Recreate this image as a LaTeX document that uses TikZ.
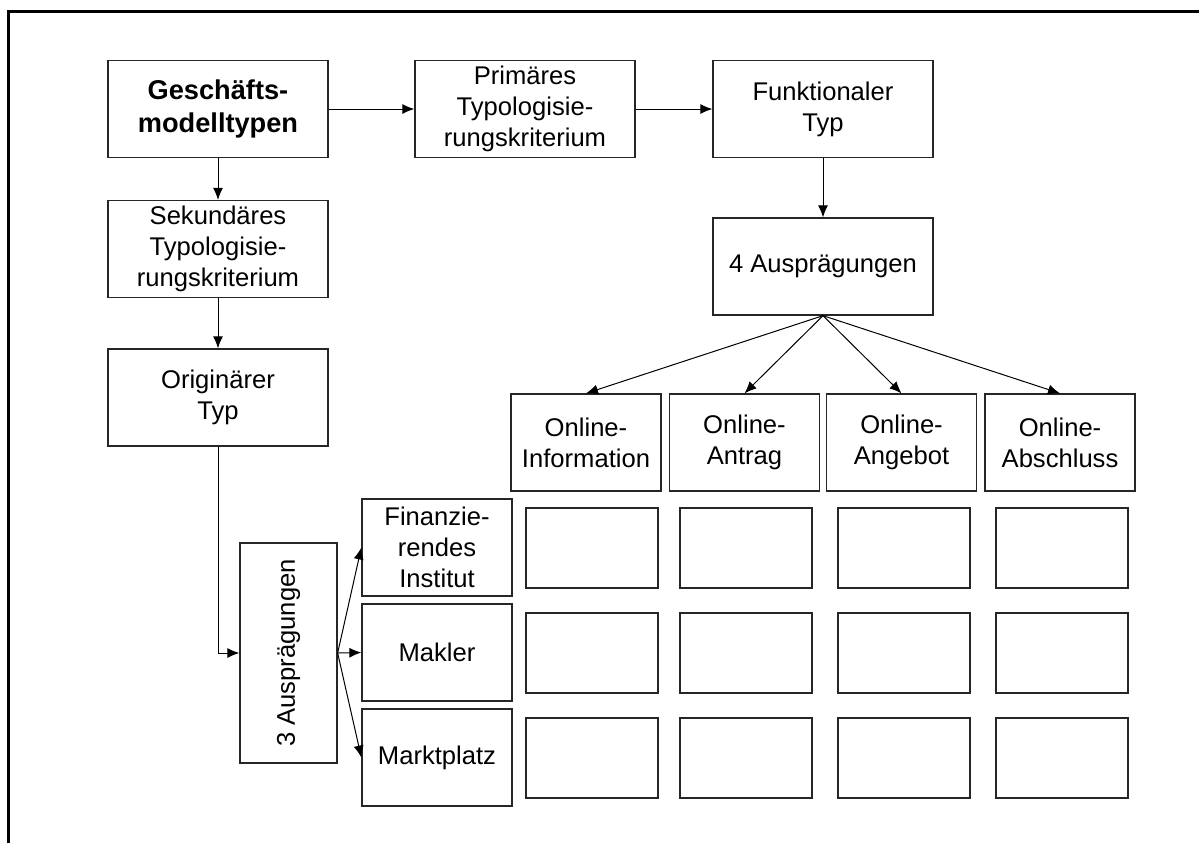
\documentclass[tikz,border=0pt]{standalone}
\usepackage{fontspec}
\setmainfont{Liberation Sans}
\usetikzlibrary{arrows.meta}

\begin{document}
\begin{tikzpicture}[x=0.5pt,y=-0.5pt,
  box/.style={draw=black!85, line width=0.65pt, inner sep=0pt, align=center,
    font=\fontsize{12.8}{15.5}\selectfont},
  big/.style={box, minimum width=110pt, minimum height=48.5pt},
  mid/.style={box, minimum width=75pt, minimum height=48.5pt},
  cell/.style={box, minimum width=66pt, minimum height=40pt},
  link/.style={draw=black, line width=0.5pt, -{Latex[length=6pt,width=5pt]}},
  frame/.style={draw=black, line width=1.1pt}]

\useasboundingbox (0,0) rectangle (1199,843);

% open outer frame (left and top edge)
\coordinate (fb) at (8.5,843);
\coordinate (fc) at (8.5,11.5);
\coordinate (fr) at (1199,11.5);
\draw[frame] (fb) -- (fc) -- (fr);

% top row
\node[big, font=\fontsize{13.6}{16.5}\selectfont\bfseries] (gesch) at (218,109) {Geschäfts-\\modelltypen};
\node[big] (prim) at (525,109) {Primäres\\Typologisie-\\rungskriterium};
\node[big] (funk) at (823,109) {Funktionaler\\Typ};

% left column
\node[big] (sek) at (218,249) {Sekundäres\\Typologisie-\\rungskriterium};
\node[big] (orig) at (218,397.5) {Originärer\\Typ};

% functional characteristics
\node[big] (aus4) at (823,266.5) {4 Ausprägungen};
\node[mid] (on1) at (586,442.5) {Online-\\Information};
\node[mid] (on2) at (744.5,442.5) {Online-\\Antrag};
\node[mid] (on3) at (901.5,442.5) {Online-\\Angebot};
\node[mid] (on4) at (1060,442.5) {Online-\\Abschluss};

% original characteristics
\node[box, minimum width=48.5pt, minimum height=110pt] (aus3) at (288.5,653) {};
\node[rotate=90, inner sep=0pt, font=\fontsize{12.8}{15.5}\selectfont] (aus3txt) at (aus3) {3 Ausprägungen};
\node[mid] (fin) at (437,547.5) {Finanzie-\\rendes\\Institut};
\node[mid] (mak) at (437,652.5) {Makler};
\node[mid] (mkt) at (437,757.5) {Marktplatz};

% empty matrix cells
\foreach \c/\x in {1/592,2/746,3/904,4/1062}{
  \foreach \r/\y in {1/548,2/653,3/758}{
    \node[cell] (cell\r\c) at (\x,\y) {};
  }
}

% connectors
\draw[link] (gesch.south) -- (sek.north);
\draw[link] (gesch.east) -- (prim.west);
\draw[link] (prim.east) -- (funk.west);
\draw[link] (funk.south) -- (aus4.north);
\draw[link] (sek.south) -- (orig.north);
\draw[link] (orig.south) |- (aus3.west);
\foreach \o in {on1,on2,on3,on4}{
  \draw[link] (aus4.south) -- (\o.north);
}
\foreach \o in {fin,mak,mkt}{
  \draw[link] (aus3.east) -- (\o.west);
}
\end{tikzpicture}
\end{document}
